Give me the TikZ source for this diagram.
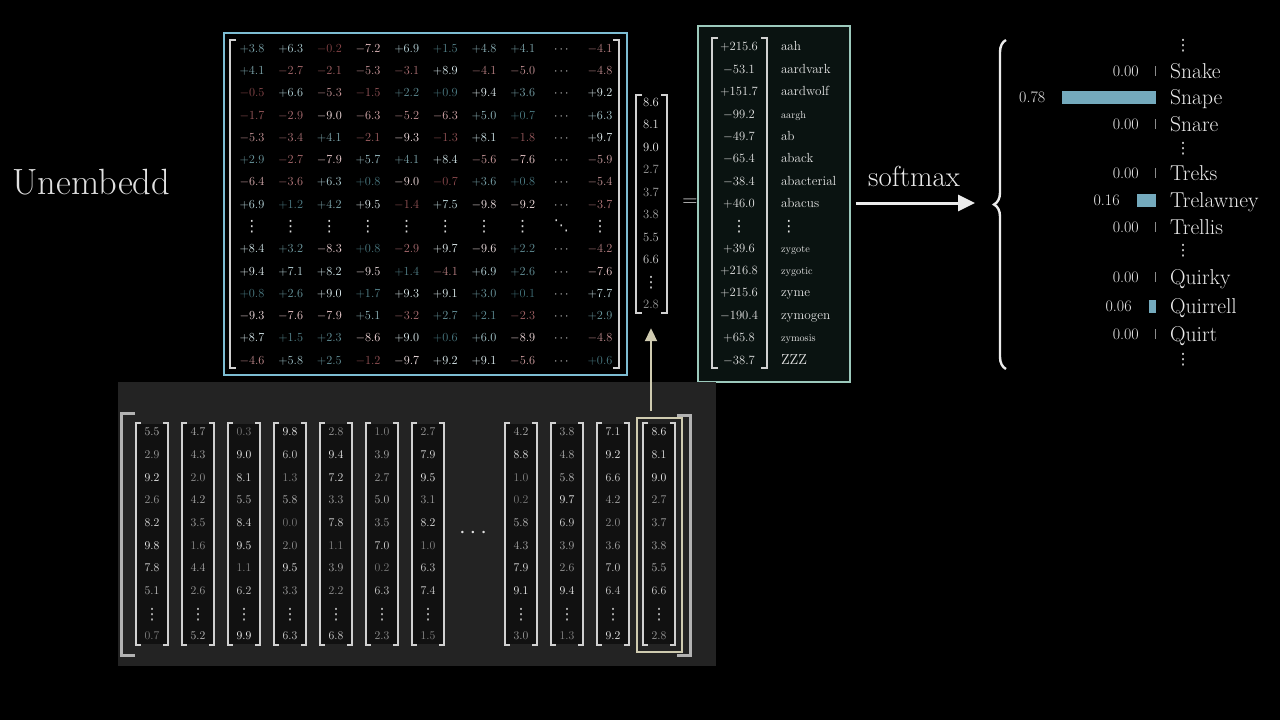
\RequirePackage{fix-cm}
\documentclass[tikz,border=0pt]{standalone}
\usepackage{fontspec}
\usepackage{xcolor}
\usepackage{tikz}
\usetikzlibrary{matrix,arrows.meta,decorations.pathreplacing}
\newfontfamily\dotsfont{DejaVu Sans}

\definecolor{poscol}{HTML}{5DB8C8}
\definecolor{negcol}{HTML}{DD5F66}
\definecolor{wframecol}{HTML}{7DBDD3}
\definecolor{lframecol}{HTML}{9CC9BC}
\definecolor{logitbg}{HTML}{0A1311}
\definecolor{barcol}{HTML}{74AABD}
\definecolor{hlcol}{HTML}{CFCBB0}
\definecolor{panelcol}{HTML}{232323}
\definecolor{colbg}{HTML}{111111}

% signed matrix entry, coloured by sign and size
\newcommand{\ent}[1]{%
  \pgfmathsetmacro{\entabs}{abs(#1)}%
  \pgfmathtruncatemacro{\entw}{min(90,8*\entabs+10)}%
  \pgfmathtruncatemacro{\entb}{min(100,60+5*\entabs)}%
  \pgfmathtruncatemacro{\entpos}{#1>0}%
  \ifnum\entpos=1 \def\entcol{poscol}\def\entsgn{+}\else\def\entcol{negcol}\def\entsgn{-}\fi
  \textcolor{white!\entw!\entcol!\entb!black}{$\entsgn$\pgfmathprintnumber[fixed,precision=1,fixed zerofill]{\entabs}}}
% grey entry, brighter for bigger values
\newcommand{\gv}[1]{\pgfmathtruncatemacro{\gvw}{47+5.3*#1}\textcolor{white!\gvw!black}{#1}}
\newcommand{\vd}{\raisebox{-1.5pt}{\dotsfont\fontsize{15.5}{15.5}\selectfont ⋮}}
\newcommand{\dd}{{\dotsfont\fontsize{15}{15}\selectfont ⋱}}
\newcommand{\sqbr}[5][6]{%
  \draw[brk] ({#2+#1},#3) -- (#2,#3) -- (#2,#5) -- ({#2+#1},#5);
  \draw[brk] ({#4-#1},#3) -- (#4,#3) -- (#4,#5) -- ({#4-#1},#5);}

\tikzset{
  brk/.style={line width=1.3pt, white!82!black},
  bigbrk/.style={line width=3pt, white!70!black},
  cell/.style={anchor=center, inner sep=0pt, text height=8pt, text depth=0pt},
  wmat/.style={matrix of nodes, inner sep=0pt, row sep=0pt, column sep=0pt,
    nodes={cell, minimum width=38.67pt, minimum height=22.29pt, text=white!85!black, font=\fontsize{12.3}{14}\selectfont}},
  xmat/.style={matrix of nodes, inner sep=0pt, row sep=0pt,
    nodes={cell, minimum width=30pt, minimum height=22.5pt, text=white!85!black, font=\fontsize{12.6}{14}\selectfont}},
  lmat/.style={matrix of nodes, inner sep=0pt, row sep=0pt, column sep=17pt,
    nodes={cell, minimum height=22.36pt, text=white!90!black, font=\fontsize{12.6}{14}\selectfont},
    column 1/.style={nodes={text width=50pt, align=center}},
    column 2/.style={nodes={text width=70pt, align=left, font=\fontsize{13.2}{15}\selectfont}}},
  smallword/.style={font=\fontsize{10.3}{12}\selectfont},
  wbox/.style={draw=wframecol, line width=1.5pt, fill=black, inner sep=0pt, minimum width=403pt, minimum height=342pt},
  lbox/.style={draw=lframecol, line width=1.5pt, fill=logitbg, inner sep=0pt, minimum width=152pt, minimum height=356pt},
  hlbox/.style={draw=hlcol, line width=1.8pt, inner sep=0pt, minimum width=45pt, minimum height=234pt},
  bigarrow/.style={line width=3pt, white!92!black, -{Triangle[length=17pt,width=16pt]}},
  uparrow/.style={line width=2pt, hlcol, -{Triangle[length=13pt,width=12pt]}},
  brc/.style={decorate, decoration={brace, amplitude=12pt}, line width=2.4pt, white!92!black},
  word/.style={font=\fontsize{21.5}{24}\selectfont, text=white!92!black, inner sep=0pt},
  prob/.style={font=\fontsize{16}{18}\selectfont, text=white!92!black, inner sep=0pt},
  colent/.style={font=\fontsize{11.8}{13}\selectfont, inner sep=0pt, anchor=center, text height=7.5pt, text depth=0pt},
  tick/.style={line width=0.8pt, white!55!black},
}

\begin{document}
\begin{tikzpicture}[x=1pt, y=-1pt]
    \fill[black] (0,0) rectangle (1280,720);
    \useasboundingbox (0,0) rectangle (1280,720);

    \node[anchor=base west, font=\fontsize{36.5}{40}\selectfont, text=white!88!black] (title) at (9,194) {Unembedd};

    % unembedding matrix
    \node[wbox] (wframe) at (425.5,204) {};
    \matrix (W) [wmat] at (426,204.2) {
        \ent{3.8} & \ent{6.3} & \ent{-0.2} & \ent{-7.2} & \ent{6.9} & \ent{1.5} & \ent{4.8} & \ent{4.1} & $\cdots$ & \ent{-4.1} \\
        \ent{4.1} & \ent{-2.7} & \ent{-2.1} & \ent{-5.3} & \ent{-3.1} & \ent{8.9} & \ent{-4.1} & \ent{-5.0} & $\cdots$ & \ent{-4.8} \\
        \ent{-0.5} & \ent{6.6} & \ent{-5.3} & \ent{-1.5} & \ent{2.2} & \ent{0.9} & \ent{9.4} & \ent{3.6} & $\cdots$ & \ent{9.2} \\
        \ent{-1.7} & \ent{-2.9} & \ent{-9.0} & \ent{-6.3} & \ent{-5.2} & \ent{-6.3} & \ent{5.0} & \ent{0.7} & $\cdots$ & \ent{6.3} \\
        \ent{-5.3} & \ent{-3.4} & \ent{4.1} & \ent{-2.1} & \ent{-9.3} & \ent{-1.3} & \ent{8.1} & \ent{-1.8} & $\cdots$ & \ent{9.7} \\
        \ent{2.9} & \ent{-2.7} & \ent{-7.9} & \ent{5.7} & \ent{4.1} & \ent{8.4} & \ent{-5.6} & \ent{-7.6} & $\cdots$ & \ent{-5.9} \\
        \ent{-6.4} & \ent{-3.6} & \ent{6.3} & \ent{0.8} & \ent{-9.0} & \ent{-0.7} & \ent{3.6} & \ent{0.8} & $\cdots$ & \ent{-5.4} \\
        \ent{6.9} & \ent{1.2} & \ent{4.2} & \ent{9.5} & \ent{-1.4} & \ent{7.5} & \ent{-9.8} & \ent{-9.2} & $\cdots$ & \ent{-3.7} \\
        \vd & \vd & \vd & \vd & \vd & \vd & \vd & \vd & \dd & \vd \\
        \ent{8.4} & \ent{3.2} & \ent{-8.3} & \ent{0.8} & \ent{-2.9} & \ent{9.7} & \ent{-9.6} & \ent{2.2} & $\cdots$ & \ent{-4.2} \\
        \ent{9.4} & \ent{7.1} & \ent{8.2} & \ent{-9.5} & \ent{1.4} & \ent{-4.1} & \ent{6.9} & \ent{2.6} & $\cdots$ & \ent{-7.6} \\
        \ent{0.8} & \ent{2.6} & \ent{9.0} & \ent{1.7} & \ent{9.3} & \ent{9.1} & \ent{3.0} & \ent{0.1} & $\cdots$ & \ent{7.7} \\
        \ent{-9.3} & \ent{-7.6} & \ent{-7.9} & \ent{5.1} & \ent{-3.2} & \ent{2.7} & \ent{2.1} & \ent{-2.3} & $\cdots$ & \ent{2.9} \\
        \ent{8.7} & \ent{1.5} & \ent{2.3} & \ent{-8.6} & \ent{9.0} & \ent{0.6} & \ent{6.0} & \ent{-8.9} & $\cdots$ & \ent{-4.8} \\
        \ent{-4.6} & \ent{5.8} & \ent{2.5} & \ent{-1.2} & \ent{-9.7} & \ent{9.2} & \ent{9.1} & \ent{-5.6} & $\cdots$ & \ent{0.6} \\
    };
    \sqbr{230}{40}{619}{368}

    % last embedding vector
    \matrix (X) [xmat] at (651,203.5) {
        \gv{8.6} \\ \gv{8.1} \\ \gv{9.0} \\ \gv{2.7} \\ \gv{3.7} \\ \gv{3.8} \\ \gv{5.5} \\ \gv{6.6} \\ \vd \\ \gv{2.8} \\
    };
    \sqbr{636}{95}{667}{313}

    \node[font=\fontsize{21}{24}\selectfont, text=white!90!black] (eq) at (690,203) {$=$};

    % logits
    \node[lbox] (lframe) at (774,204) {};
    \matrix (L) [lmat] at (782.5,203.5) {
        $+$215.6 & aah \\
        $-$53.1 & aardvark \\
        $+$151.7 & aardwolf \\
        $-$99.2 & |[smallword]| aargh \\
        $-$49.7 & ab \\
        $-$65.4 & aback \\
        $-$38.4 & abacterial \\
        $+$46.0 & abacus \\
        \vd & \vd \\
        $+$39.6 & |[smallword]| zygote \\
        $+$216.8 & |[smallword]| zygotic \\
        $+$215.6 & zyme \\
        $-$190.4 & zymogen \\
        $+$65.8 & |[smallword]| zymosis \\
        $-$38.7 & |[font=\fontsize{14.5}{16}\selectfont]| ZZZ \\
    };
    \sqbr{712}{38}{767}{368}

    % softmax
    \node[anchor=base, font=\fontsize{29}{32}\selectfont, text=white!92!black] (smx) at (914,186) {softmax};
    \coordinate (brtip) at (975,203);
    \draw[bigarrow, shorten <=5pt] (lframe.east |- brtip) -- (brtip);
    \draw[brc] (1006,369) -- (1006,40);

    \foreach \yy/\pr/\word in {71/0.00/Snake, 97/0.78/Snape, 124/0.00/Snare, 173/0.00/Treks, 200/0.16/Trelawney,
        227/0.00/Trellis, 277/0.00/Quirky, 306/0.06/Quirrell, 334/0.00/Quirt} {
        \pgfmathsetmacro{\barl}{1156-120*\pr}
        \node[word, anchor=base west] (w-\word) at (1170,\yy+7) {\word};
        \node[prob, anchor=base east] (p-\word) at (\barl-17,\yy+5) {\pr};
        \ifdim\pr pt>0pt
            \fill[barcol] (\barl,\yy-6.5) rectangle (1156,\yy+6.5);
        \else
            \draw[tick] (1155,\yy-5) -- (1155,\yy+5);
        \fi
    }
    \foreach \yy [count=\i] in {46,149,251,360}
        \node[inner sep=0pt, text=white!90!black] (dots\i) at (1183,\yy) {\vd};

    % embeddings of the context
    \fill[panelcol] (118,382) rectangle (716,666);
    \foreach \cx/\vals [count=\c] in {
        152/{5.5,2.9,9.2,2.6,8.2,9.8,7.8,5.1,0.7},
        198/{4.7,4.3,2.0,4.2,3.5,1.6,4.4,2.6,5.2},
        244/{0.3,9.0,8.1,5.5,8.4,9.5,1.1,6.2,9.9},
        290/{9.8,6.0,1.3,5.8,0.0,2.0,9.5,3.3,6.3},
        336/{2.8,9.4,7.2,3.3,7.8,1.1,3.9,2.2,6.8},
        382/{1.0,3.9,2.7,5.0,3.5,7.0,0.2,6.3,2.3},
        428/{2.7,7.9,9.5,3.1,8.2,1.0,6.3,7.4,1.5},
        521/{4.2,8.8,1.0,0.2,5.8,4.3,7.9,9.1,3.0},
        567/{3.8,4.8,5.8,9.7,6.9,3.9,2.6,9.4,1.3},
        613/{7.1,9.2,6.6,4.2,2.0,3.6,7.0,6.4,9.2},
        659/{8.6,8.1,9.0,2.7,3.7,3.8,5.5,6.6,2.8}} {
        \fill[colbg] (\cx-16,424) rectangle (\cx+16,644);
        \foreach \v [count=\r] in \vals {
            \pgfmathsetmacro{\yy}{\r<9 ? 432+(\r-1)*22.7 : 636}
            \node[colent] (e\c-\r) at (\cx,\yy) {\gv{\v}};
        }
        \node[colent, text=white!80!black] (e\c-d) at (\cx,614) {\vd};
        \sqbr[5]{\cx-16}{423}{\cx+16}{645}
    }
    \node[font=\fontsize{24}{26}\selectfont, text=white!88!black] (gap) at (473,533) {$\cdots$};
    \draw[bigbrk] (135,413) -- (121,413) -- (121,655) -- (135,655);
    \draw[bigbrk] (677,415) -- (690,415) -- (690,655) -- (677,655);

    \node[hlbox] (hl) at (659.5,535) {};
    \coordinate (arrfoot) at (651,411);
    \draw[uparrow, shorten >=12pt] (arrfoot) -- (X.south);
\end{tikzpicture}
\end{document}
